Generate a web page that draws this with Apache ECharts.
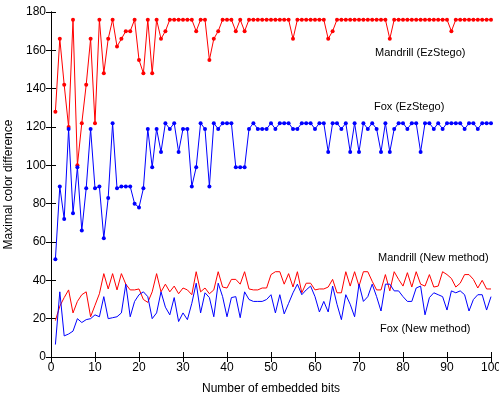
<!DOCTYPE html>
<html><head><meta charset="utf-8">
<script src="https://cdn.jsdelivr.net/npm/echarts@6/dist/echarts.min.js"></script>
<style>html,body{margin:0;padding:0;background:#fff}#c{width:499px;height:396px}</style>
</head><body><div id="c"></div>
<script>
const xValues = Array.from({length:100},(_, i)=>i+1);
const mandrillEz = [128,166,142,120,176,100,122,142,166,122,176,148,166,176,162,166,170,170,176,155,
148,176,148,176,166,170,176,176,176,176,176,176,170,176,176,155,166,170,176,176,
176,170,176,170,176,176,176,176,176,176,176,176,176,176,166,176,176,176,176,176,
176,176,166,170,176,176,176,176,176,176,176,176,176,176,176,176,166,176,176,176,
176,176,176,176,176,176,176,176,176,176,170,176,176,176,176,176,176,176,176,176];
const foxEz = [51,89,72,119,75,99,66,88,119,88,89,62,83,122,88,89,89,89,80,78,
88,119,99,119,107,122,119,122,107,119,119,89,99,122,119,89,122,119,122,122,
122,99,99,99,119,122,119,119,119,122,119,122,122,122,119,119,122,122,122,119,
122,122,107,122,122,119,122,107,122,107,122,119,122,119,107,122,107,119,122,122,
119,122,122,107,122,122,119,122,119,122,122,122,122,119,122,122,119,122,122,122];
const mandrillNew = [19,26.5,31,35,23,29,32.5,34,21,27,33,43.5,35.5,43.5,35,43.5,38,35,35,35.5,
30,28.5,34,43.5,34,38,34,37,33,36,35,32.5,44.5,34,36,33,35,44.5,36.5,36,
40.5,40.5,38,44.5,35.5,35,35,36,36,43,44.5,44.5,38,43.5,36.5,44.5,33.5,38.5,38.5,35,
35.5,35.5,36.5,40.5,33.5,33.5,44.5,37,44.5,37,44.5,44.5,39.5,35,35,43,34.5,44.5,40.5,37,
44,36.5,44.5,38,37,43,36.5,37,44.5,43,41,36.5,38.5,43,43,40.5,36,40,35.5,35.5];
const foxNew = [6.5,34,11,12,13.5,20,18,19.5,20,22,21,31.5,20,20.5,21,23,38,21,29,32.5,
34,31.5,20,23,34,26,22,31,18.5,23,19.5,28,38.5,23,33.5,31,21,38.5,31.5,21,
31,31.5,20.5,34,30,29,29,29,30,32.5,23,32.5,22.5,28,33.5,38,32.5,35,37,31.5,
23.5,29,23.5,37,27.5,19.5,32.5,27.5,21,38,29,31.5,38,31.5,24,38,38,34.5,34.5,31.5,
29,29,36,37,22,31,33.5,32.5,31.5,24.5,34.5,33.5,34.5,32.5,24,30,32.5,32.5,24.5,31.5];
const xTicks = [0,10,20,30,40,50,60,70,80,90,100];
const yTicks = [0,20,40,60,80,100,120,140,160,180];
const seriesNames = ['Mandrill (EzStego)','Fox (EzStego)','Mandrill (New method)','Fox (New method)'];

const pair = arr => arr.map((v,i)=>[xValues[i], v]);
const FONT = 'Liberation Sans';
const chart = echarts.init(document.getElementById('c'), null, {renderer:'canvas'});
const axisBase = {
  axisLine:{show:true, lineStyle:{color:'#000', width:1}},
  axisTick:{show:true, inside:true, length:5, lineStyle:{color:'#000'}},
  splitLine:{show:false},
};
chart.setOption({
  animation:false,
  backgroundColor:'#fff',
  grid:{left:51, right:8, top:12, bottom:39, show:false, containLabel:false, outerBoundsMode:'none'},
  xAxis:[
    Object.assign({type:'value', min:xTicks[0], max:xTicks[xTicks.length-1], interval:10, position:'bottom',
      name:'Number of embedded bits', nameLocation:'middle', nameGap:26,
      nameTextStyle:{color:'#000', fontFamily:FONT, fontSize:12},
      axisLabel:{color:'#000', fontFamily:FONT, fontSize:12, margin:5}}, axisBase),
    Object.assign({type:'value', min:0, max:100, interval:10, position:'top', axisLabel:{show:false}}, axisBase)
  ],
  yAxis:[
    Object.assign({type:'value', min:yTicks[0], max:yTicks[yTicks.length-1], interval:20, position:'left',
      name:'Maximal color difference', nameLocation:'middle', nameGap:29,
      nameTextStyle:{color:'#000', fontFamily:FONT, fontSize:12},
      axisLabel:{color:'#000', fontFamily:FONT, fontSize:12, margin:5}}, axisBase),
    Object.assign({type:'value', min:0, max:180, interval:20, position:'right', axisLabel:{show:false}}, axisBase)
  ],
  series:[
    {name:seriesNames[0], type:'line', data:pair(mandrillEz), color:'#ff0000', lineStyle:{width:1},
     symbol:'circle', symbolSize:4, itemStyle:{color:'#ff0000'}, z:3},
    {name:seriesNames[1], type:'line', data:pair(foxEz), color:'#0000ff', lineStyle:{width:1},
     symbol:'circle', symbolSize:4, itemStyle:{color:'#0000ff'}, z:3},
    {name:seriesNames[2], type:'line', data:pair(mandrillNew), color:'#ff0000', lineStyle:{width:1},
     showSymbol:false, symbol:'none', z:2},
    {name:seriesNames[3], type:'line', data:pair(foxNew), color:'#0000ff', lineStyle:{width:1},
     showSymbol:false, symbol:'none', z:2}
  ],
  graphic:[
    {type:'text', left:375, top:47, style:{text:seriesNames[0], fill:'#000', font:'11px '+FONT}},
    {type:'text', left:374, top:101, style:{text:seriesNames[1], fill:'#000', font:'11px '+FONT}},
    {type:'text', left:378, top:252, style:{text:seriesNames[2], fill:'#000', font:'11px '+FONT}},
    {type:'text', left:380, top:323, style:{text:seriesNames[3], fill:'#000', font:'11px '+FONT}}
  ]
});
</script></body></html>
